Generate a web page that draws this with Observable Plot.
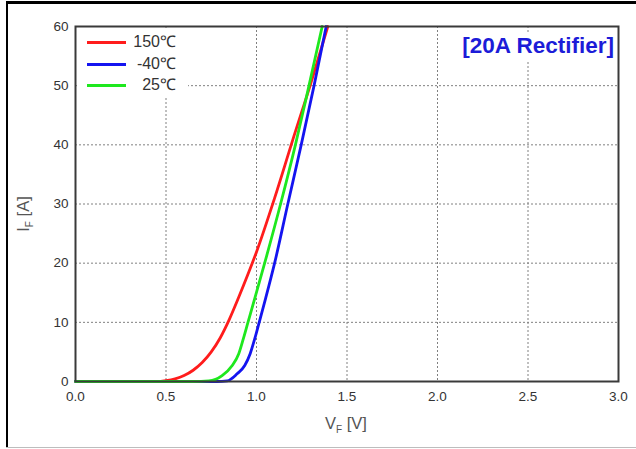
<!DOCTYPE html>
<html>
<head>
<meta charset="utf-8">
<script src="https://cdn.jsdelivr.net/npm/d3@7"></script>
<script src="https://cdn.jsdelivr.net/npm/@observablehq/plot@0.6"></script>
<style>
  html, body { margin: 0; padding: 0; background: #fff; }
  #wrap { position: relative; width: 636px; height: 449px; overflow: hidden; font-family: Arial, "Liberation Sans", sans-serif; background:#fff; }
  #wrap svg { position: absolute; left: 0; top: 0; }
  .bd { position: absolute; }
  #legend { position: absolute; left: 77px; top: 28px; width: 111px; height: 69px; background: #fff; }
  .lg-row { position: absolute; left: 0; width: 111px; height: 20px; }
  .lg-line { position: absolute; left: 10px; width: 39px; height: 3px; top: 9px; }
  .lg-text { position: absolute; right: 12px; top: 0px; font-size: 16px; color: #333; line-height: 20px; }
  #title { position: absolute; right: 20px; top: 32px; background: #fff; padding: 1px 2px 3px 3px; font-size: 22.5px; font-weight: bold; color: #1c1cd8; line-height: 25px; }
</style>
</head>
<body>
<div id="wrap"></div>
<script>
// ---- data ----
const series = ["150℃", "-40℃", "25℃"];
const seriesColors = ["#ff1c1c", "#1414f0", "#1ee81e"];

const v150 = [0, 0.45, 0.5, 0.55, 0.6, 0.65, 0.7, 0.75, 0.8, 0.85, 0.9, 0.95, 1.0, 1.1, 1.2, 1.3, 1.394];
const i150 = [0, 0, 0.15, 0.45, 1.0, 1.9, 3.2, 5.0, 7.4, 10.5, 14.1, 17.9, 21.9, 31, 40.8, 50.4, 60];

const vm40 = [0, 0.78, 0.838, 0.893, 0.935, 0.965, 0.99, 1.015, 1.05, 1.1, 1.173, 1.247, 1.318, 1.385];
const im40 = [0, 0, 0.1, 1.3, 2.7, 4.7, 7.2, 10, 14, 20, 30, 40, 50, 60];

const v25 = [0, 0.65, 0.737, 0.81, 0.866, 0.902, 0.927, 0.952, 0.99, 1.045, 1.133, 1.215, 1.29, 1.363];
const i25 = [0, 0, 0.1, 1.0, 2.7, 4.7, 7.2, 9.9, 14, 20, 30, 40, 50, 60];

const xTicks = [0, 0.5, 1.0, 1.5, 2.0, 2.5, 3.0];
const yTicks = [0, 10, 20, 30, 40, 50, 60];
const titleText = "[20A Rectifier]";

// ---- build table ----
const rows = [];
[[v150, i150, series[0]], [vm40, im40, series[1]], [v25, i25, series[2]]].forEach(([vs, is, s]) => {
  vs.forEach((v, k) => rows.push({ v, i: is[k], s }));
});

const plot = Plot.plot({
  width: 636,
  height: 449,
  marginLeft: 75,
  marginRight: 18,
  marginTop: 26,
  marginBottom: 68,
  style: { fontFamily: "Arial, 'Liberation Sans', sans-serif", fontSize: "13.5px", color: "#333", background: "transparent" },
  x: { domain: [0, 3] },
  y: { domain: [0, 60] },
  color: { domain: series, range: seriesColors },
  marks: [
    Plot.gridX(xTicks, { stroke: "#808080", strokeOpacity: 1, strokeDasharray: "2,2", strokeWidth: 1 }),
    Plot.gridY(yTicks, { stroke: "#808080", strokeOpacity: 1, strokeDasharray: "2,2", strokeWidth: 1 }),
    Plot.axisX(xTicks, { tickSize: 0, tickPadding: 10, tickFormat: d => d.toFixed(1), label: null, fill: "#333" }),
    Plot.axisY(yTicks, { tickSize: 0, tickPadding: 7, label: null, fill: "#333" }),
    Plot.line(rows, { x: "v", y: "i", z: "s", stroke: "s", curve: "monotone-x", strokeWidth: 2.8 }),
    Plot.frame({ stroke: "#3a3a3a", strokeWidth: 2 })
  ]
});

const wrap = document.getElementById("wrap");
wrap.appendChild(plot);

// axis titles with subscripts
const svg = d3.select(plot);
const xl = svg.append("text")
  .attr("x", 346).attr("y", 429)
  .attr("text-anchor", "middle")
  .attr("fill", "#555").attr("font-size", 16.5);
xl.append("tspan").text("V");
xl.append("tspan").attr("font-size", 10).attr("dy", 4).text("F");
xl.append("tspan").attr("dy", -4).text(" [V]");

const yl = svg.append("text")
  .attr("transform", "translate(29,214) rotate(-90)")
  .attr("text-anchor", "middle")
  .attr("fill", "#555").attr("font-size", 16.5);
yl.append("tspan").text("I");
yl.append("tspan").attr("font-size", 10).attr("dy", 4).text("F");
yl.append("tspan").attr("dy", -4).text(" [A]");

// legend
const legend = document.createElement("div");
legend.id = "legend";
series.forEach((s, k) => {
  const row = document.createElement("div");
  row.className = "lg-row";
  row.style.top = (4 + k * 21.5) + "px";
  const ln = document.createElement("div");
  ln.className = "lg-line";
  ln.style.background = seriesColors[k];
  const tx = document.createElement("div");
  tx.className = "lg-text";
  tx.textContent = s;
  row.appendChild(ln);
  row.appendChild(tx);
  legend.appendChild(row);
});
wrap.appendChild(legend);

// title
const title = document.createElement("div");
title.id = "title";
title.textContent = titleText;
wrap.appendChild(title);

// outer picture border
[
  { left: 6, top: 1, width: 630, height: 3, bg: "#000" },
  { left: 6, top: 1, width: 2, height: 446, bg: "#000" },
  { left: 6, top: 447, width: 630, height: 1, bg: "#bdbdbd" }
].forEach(b => {
  const d = document.createElement("div");
  d.className = "bd";
  Object.assign(d.style, { left: b.left + "px", top: b.top + "px", width: b.width + "px", height: b.height + "px", background: b.bg });
  wrap.appendChild(d);
});
</script>
</body>
</html>
